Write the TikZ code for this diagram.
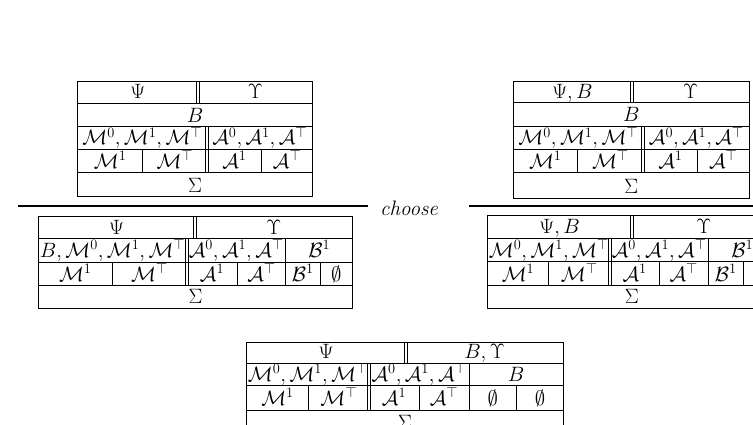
\documentclass[tikz,border=0pt]{standalone}
\begin{document}
\newcommand\cel[5]{\node[txt,anchor=base] (#1) at ({(#2+#3)/2},#4) {$#5$};}
\newcommand\dbl[3]{\draw[tab] ({#1-1.4},#2) -- ({#1-1.4},#3) ({#1+1.4},#2) -- ({#1+1.4},#3);}
\begin{tikzpicture}[x=1pt,y=-1pt,
  tab/.style={line width=1pt},
  txt/.style={inner sep=0pt, font=\fontsize{21.5}{26}\selectfont},
  rulel/.style={line width=1.2pt}]
\useasboundingbox (0,0) rectangle (753,424);
\clip (0,0) rectangle (753,424);
\fill[white] (0,0) rectangle (753,424);

% ---------- Table 1 (top left)
\draw[tab] (77.5,81.7) rectangle (312.5,196.7);
\foreach \y in {103.3,126.7,149.3,172.7} \draw[tab] (77.5,\y) -- (312.5,\y);
\dbl{198}{81.7}{103.3}
\dbl{207}{126.7}{172.7}
\draw[tab] (142.7,149.3) -- (142.7,172.7) (261.7,149.3) -- (261.7,172.7);
\cel{t1psi}{77.5}{198}{98.8}{\Psi}
\cel{t1ups}{198}{312.5}{98.8}{\Upsilon}
\cel{t1b}{77.5}{312.5}{122.2}{B}
\cel{t1m}{77.5}{207}{144.8}{\mathcal M^0,\mathcal M^1,\mathcal M^\top}
\cel{t1a}{207}{312.5}{144.8}{\mathcal A^0,\mathcal A^1,\mathcal A^\top}
\cel{t1m1}{77.5}{142.7}{168.2}{\mathcal M^1}
\cel{t1mt}{142.7}{207}{168.2}{\mathcal M^\top}
\cel{t1a1}{207}{261.7}{168.2}{\mathcal A^1}
\cel{t1at}{261.7}{312.5}{168.2}{\mathcal A^\top}
\cel{t1s}{77.5}{312.5}{192.2}{\Sigma}

% ---------- Table 3 (top right)
\draw[tab] (513.3,81) rectangle (749.3,198);
\foreach \y in {102.7,126,149.3,172.7} \draw[tab] (513.3,\y) -- (749.3,\y);
\dbl{631.7}{81}{102.7}
\dbl{643.3}{126}{172.7}
\draw[tab] (577.3,149.3) -- (577.3,172.7) (697.3,149.3) -- (697.3,172.7);
\cel{t3psi}{513.3}{631.7}{98.2}{\Psi,B}
\cel{t3ups}{631.7}{749.3}{98.2}{\Upsilon}
\cel{t3b}{513.3}{749.3}{121.5}{B}
\cel{t3m}{513.3}{643.3}{144.8}{\mathcal M^0,\mathcal M^1,\mathcal M^\top}
\cel{t3a}{643.3}{749.3}{144.8}{\mathcal A^0,\mathcal A^1,\mathcal A^\top}
\cel{t3m1}{513.3}{577.3}{168.2}{\mathcal M^1}
\cel{t3mt}{577.3}{643.3}{168.2}{\mathcal M^\top}
\cel{t3a1}{643.3}{697.3}{168.2}{\mathcal A^1}
\cel{t3at}{697.3}{749.3}{168.2}{\mathcal A^\top}
\cel{t3s}{513.3}{749.3}{193.5}{\Sigma}

% ---------- rules and "choose"
\node[inner sep=0pt, font=\fontsize{21}{25}\selectfont\itshape, anchor=base] (choose) at (409,215) {choose};
\coordinate (la) at (18,206);
\coordinate (lb) at (368,206);
\coordinate (ra) at (469,206);
\coordinate (rb) at (753,206);
\draw[rulel] (la) -- (lb);
\draw[rulel] (ra) -- (rb);

% ---------- Table 2 (bottom left)
\draw[tab] (38.3,216) rectangle (352.7,308);
\foreach \y in {238.7,262,285.7} \draw[tab] (38.3,\y) -- (352.7,\y);
\dbl{195}{216}{238.7}
\dbl{186.7}{238.7}{285.7}
\draw[tab] (285.7,238.7) -- (285.7,285.7);
\draw[tab] (112.3,262) -- (112.3,285.7) (237.3,262) -- (237.3,285.7) (320,262) -- (320,285.7);
\cel{t2psi}{38.3}{195}{234.2}{\Psi}
\cel{t2ups}{195}{352.7}{234.2}{\Upsilon}
\cel{t2m}{38.3}{186.7}{257.5}{B,\mathcal M^0,\mathcal M^1,\mathcal M^\top}
\cel{t2a}{186.7}{285.7}{257.5}{\mathcal A^0,\mathcal A^1,\mathcal A^\top}
\cel{t2b}{285.7}{352.7}{257.5}{\mathcal B^1}
\cel{t2m1}{38.3}{112.3}{281.2}{\mathcal M^1}
\cel{t2mt}{112.3}{186.7}{281.2}{\mathcal M^\top}
\cel{t2a1}{186.7}{237.3}{281.2}{\mathcal A^1}
\cel{t2at}{237.3}{285.7}{281.2}{\mathcal A^\top}
\cel{t2b1}{285.7}{320}{281.2}{\mathcal B^1}
\cel{t2e}{320}{352.7}{281.2}{\emptyset}
\cel{t2s}{38.3}{352.7}{303.5}{\Sigma}

% ---------- Table 4 (bottom right)
\draw[tab] (487.7,215) rectangle (776,308);
\foreach \y in {238.3,261.7,285.7} \draw[tab] (487.7,\y) -- (776,\y);
\dbl{631.7}{215}{238.3}
\dbl{610}{238.3}{285.7}
\draw[tab] (708.3,238.3) -- (708.3,285.7);
\draw[tab] (548.3,261.7) -- (548.3,285.7) (659.3,261.7) -- (659.3,285.7) (743.3,261.7) -- (743.3,285.7);
\cel{t4psi}{487.7}{631.7}{233.8}{\Psi,B}
\cel{t4ups}{631.7}{776}{233.8}{\Upsilon}
\cel{t4m}{487.7}{610}{257.2}{\mathcal M^0,\mathcal M^1,\mathcal M^\top}
\cel{t4a}{610}{708.3}{257.2}{\mathcal A^0,\mathcal A^1,\mathcal A^\top}
\cel{t4b}{708.3}{776}{257.2}{\mathcal B^1}
\cel{t4m1}{487.7}{548.3}{281.2}{\mathcal M^1}
\cel{t4mt}{548.3}{610}{281.2}{\mathcal M^\top}
\cel{t4a1}{610}{659.3}{281.2}{\mathcal A^1}
\cel{t4at}{659.3}{708.3}{281.2}{\mathcal A^\top}
\cel{t4b1}{708.3}{743.3}{281.2}{\mathcal B^1}
\cel{t4e}{743.3}{776}{281.2}{\emptyset}
\cel{t4s}{487.7}{776}{303.5}{\Sigma}

% ---------- Table 5 (bottom)
\draw[tab] (246.7,342.3) rectangle (563.3,432);
\foreach \y in {363.3,385.7,410} \draw[tab] (246.7,\y) -- (563.3,\y);
\dbl{405.7}{342.3}{363.3}
\dbl{369}{363.3}{410}
\draw[tab] (469,363.3) -- (469,410);
\draw[tab] (308.3,385.7) -- (308.3,410) (419,385.7) -- (419,410) (516.7,385.7) -- (516.7,410);
\cel{t5psi}{246.7}{405.7}{358.8}{\Psi}
\cel{t5ups}{405.7}{563.3}{358.8}{B,\Upsilon}
\cel{t5m}{246.7}{369}{381.2}{\mathcal M^0,\mathcal M^1,\mathcal M^\top}
\cel{t5a}{369}{469}{381.2}{\mathcal A^0,\mathcal A^1,\mathcal A^\top}
\cel{t5b}{469}{563.3}{381.2}{B}
\cel{t5m1}{246.7}{308.3}{405.5}{\mathcal M^1}
\cel{t5mt}{308.3}{369}{405.5}{\mathcal M^\top}
\cel{t5a1}{369}{419}{405.5}{\mathcal A^1}
\cel{t5at}{419}{469}{405.5}{\mathcal A^\top}
\cel{t5e1}{469}{516.7}{405.5}{\emptyset}
\cel{t5e2}{516.7}{563.3}{405.5}{\emptyset}
\cel{t5s}{246.7}{563.3}{429.5}{\Sigma}
\end{tikzpicture}
\end{document}
